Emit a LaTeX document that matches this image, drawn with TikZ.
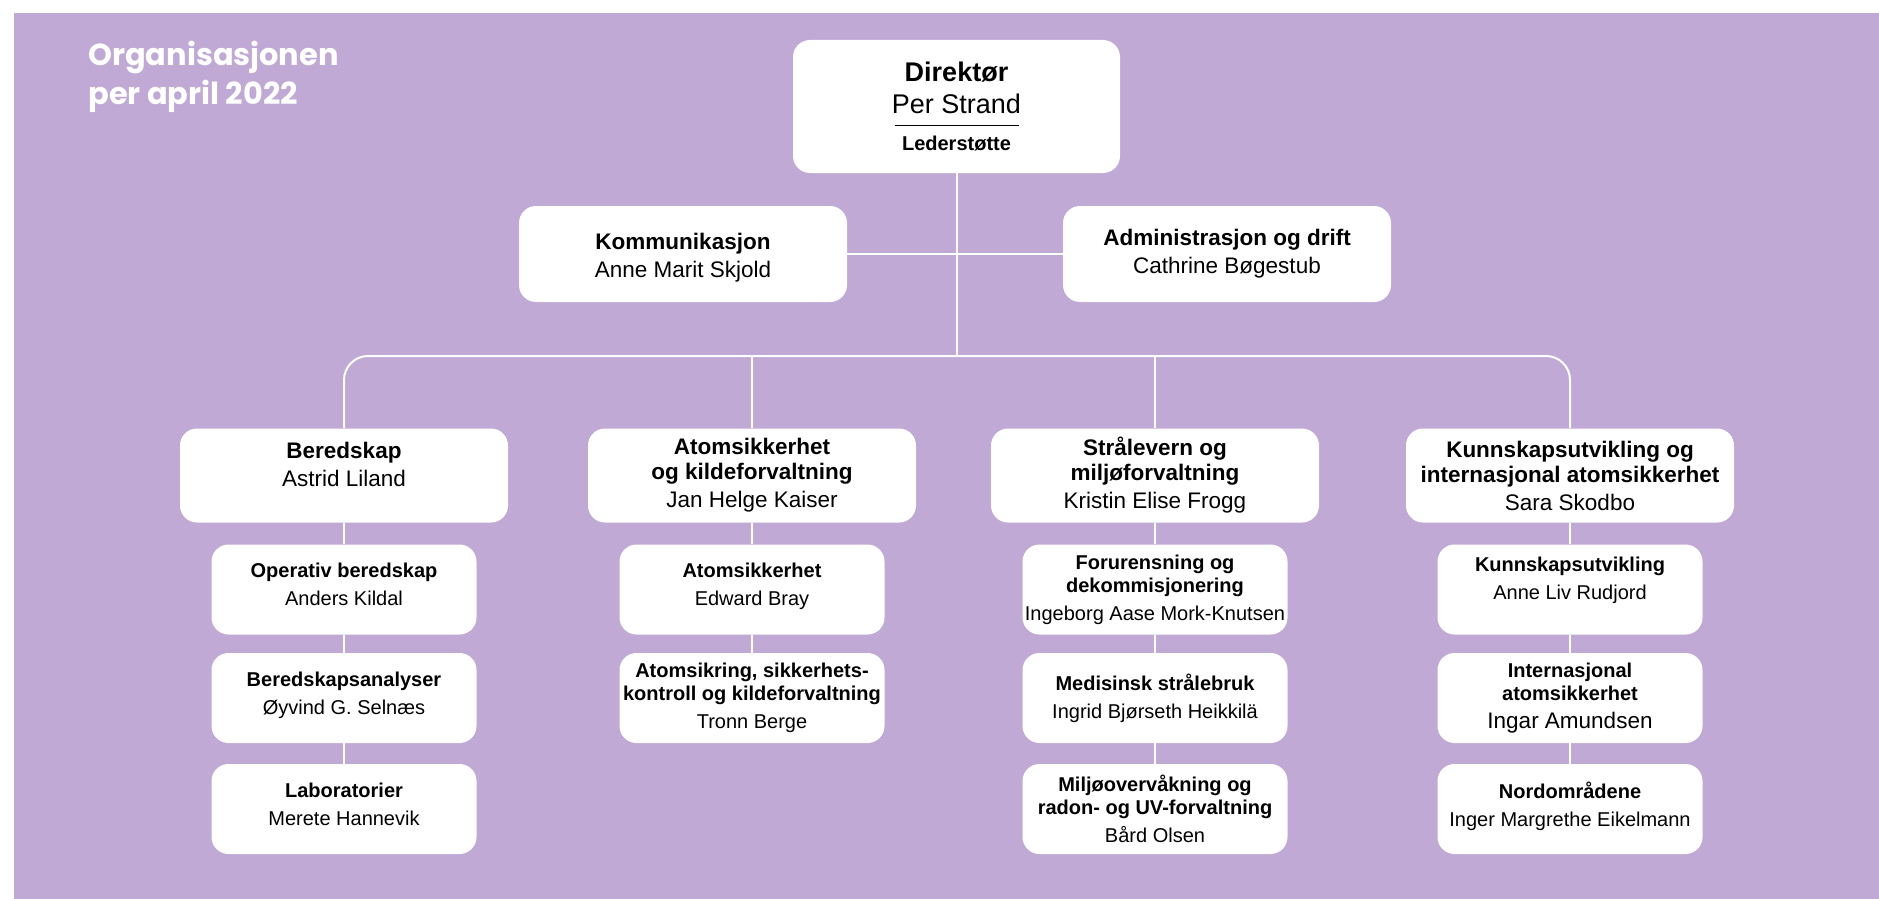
\documentclass[tikz,border=0pt]{standalone}
\usepackage{fontspec}
\setmainfont{Liberation Sans}
\newfontfamily\titlefont{Poppins}
\definecolor{lilla}{HTML}{C0A9D4}

\begin{document}
\begin{tikzpicture}[x=0.5pt, y=-0.5pt,
    box/.style={fill=white, rounded corners=8.5pt, align=center, inner sep=0pt},
    main/.style={box, minimum width=164pt, minimum height=47pt, font=\fontsize{11.25}{12.5}\selectfont},
    sub/.style={box, minimum width=132.5pt, minimum height=45pt, font=\fontsize{10}{11.5}\selectfont},
    link/.style={draw=white, line width=1pt}]
    \useasboundingbox (0,0) rectangle (1879,899);
    \fill[white] (0,0) rectangle (1879,899);
    \fill[lilla] (14,13) rectangle (1879,899);

    \node[anchor=north west, align=left, inner sep=0pt, text=white, font=\titlefont\bfseries\fontsize{15.2}{19.5}\selectfont] (title) at (88,40.5) {Organisasjonen\\per april 2022};

    \node[box, minimum width=163.5pt, minimum height=66.5pt, font=\fontsize{13.5}{16}\selectfont] (dir) at (956.5,106.5)
      {\textbf{Direktør}\\Per Strand\\[-9.75pt]\rule{62pt}{0.5pt}\\[-3.5pt]{\fontsize{10}{12}\selectfont\bfseries Lederstøtte}};
    \node[main, minimum height=48pt] (kom) at (683,254) {\rule{0pt}{12.3pt}\textbf{Kommunikasjon}\\[1.5pt]Anne Marit Skjold};
    \node[main, minimum height=48pt] (adm) at (1227,254) {\textbf{Administrasjon og drift}\\[1.5pt]Cathrine Bøgestub};

    \node[main] (ber) at (344,475.5) {\textbf{Beredskap}\\[1.5pt]Astrid Liland\\[-1pt]~};
    \node[main] (ato) at (752,475.5) {\textbf{Atomsikkerhet}\\\textbf{og kildeforvaltning}\\[1.5pt]Jan Helge Kaiser};
    \node[main] (str) at (1155,475.5) {\textbf{Strålevern og}\\\textbf{miljøforvaltning}\\[1.5pt]Kristin Elise Frogg};
    \node[main] (kun) at (1570,475.5) {\textbf{Kunnskapsutvikling og}\\\textbf{internasjonal atomsikkerhet}\\[1.5pt]Sara Skodbo};

    \node[sub] (ber1) at (344,589.5) {\textbf{Operativ beredskap}\\[2.5pt]Anders Kildal\\[-6.5pt]~};
    \node[sub] (ber2) at (344,698) {\textbf{Beredskapsanalyser}\\[2.5pt]Øyvind G. Selnæs\\[-6.5pt]~};
    \node[sub] (ber3) at (344,809) {\textbf{Laboratorier}\\[2.5pt]Merete Hannevik\\[-6.5pt]~};

    \node[sub] (ato1) at (752,589.5) {\textbf{Atomsikkerhet}\\[2.5pt]Edward Bray\\[-6.5pt]~};
    \node[sub] (ato2) at (752,698) {\textbf{Atomsikring, sikkerhets-}\\\textbf{kontroll og kildeforvaltning}\\[2.5pt]Tronn Berge};

    \node[sub] (str1) at (1155,589.5) {\textbf{Forurensning og}\\\textbf{dekommisjonering}\\[2.5pt]Ingeborg Aase Mork-Knutsen};
    \node[sub] (str2) at (1155,698) {\textbf{Medisinsk strålebruk}\\[2.5pt]Ingrid Bjørseth Heikkilä};
    \node[sub] (str3) at (1155,809) {\textbf{Miljøovervåkning og}\\\textbf{radon- og UV-forvaltning}\\[2.5pt]Bård Olsen};

    \node[sub] (kun1) at (1570,589.5) {\textbf{Kunnskapsutvikling}\\[2.5pt]Anne Liv Rudjord\\[-0.5pt]~};
    \node[sub] (kun2) at (1570,698) {\textbf{Internasjonal}\\\textbf{atomsikkerhet}\\[2.5pt]{\fontsize{11.25}{12.5}\selectfont Ingar Amundsen}};
    \node[sub] (kun3) at (1570,809) {\textbf{Nordområdene}\\[2.5pt]Inger Margrethe Eikelmann\\[-6.5pt]~};

    % ledelse og stab
    \coordinate (bus) at (956.5,356);
    \draw[link] (dir) -- (bus);
    \draw[link] (kom) -- (adm);

    % avdelinger
    \draw[link, rounded corners=12pt] (ber) |- (bus) -| (kun);
    \draw[link] (ato) -- (ato |- bus);
    \draw[link] (str) -- (str |- bus);

    % seksjoner
    \draw[link] (ber) -- (ber1);
    \draw[link] (ber1) -- (ber2);
    \draw[link] (ber2) -- (ber3);
    \draw[link] (ato) -- (ato1);
    \draw[link] (ato1) -- (ato2);
    \draw[link] (str) -- (str1);
    \draw[link] (str1) -- (str2);
    \draw[link] (str2) -- (str3);
    \draw[link] (kun) -- (kun1);
    \draw[link] (kun1) -- (kun2);
    \draw[link] (kun2) -- (kun3);
\end{tikzpicture}
\end{document}
